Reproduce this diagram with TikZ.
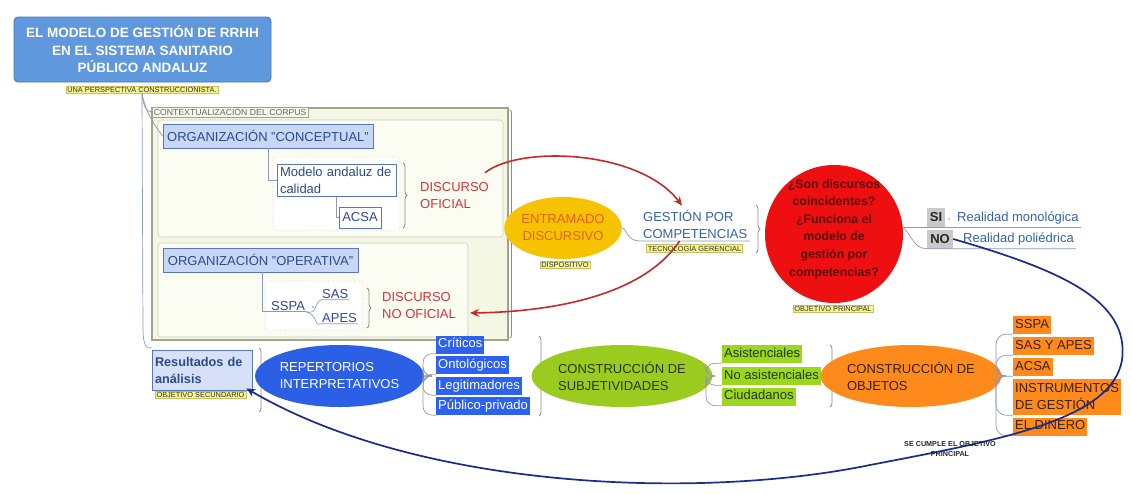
\documentclass[tikz,border=0pt]{standalone}
\usepackage{fontspec}
\setmainfont{Liberation Sans}
\usetikzlibrary{shapes.geometric,decorations.pathreplacing,arrows.meta,calc}
\definecolor{titleblue}{HTML}{5F98DD}
\definecolor{titleborder}{HTML}{4A78B8}
\definecolor{lblyellow}{HTML}{F8F58A}
\definecolor{lblborder}{HTML}{C8C060}
\definecolor{ctxfill}{HTML}{F5F7E5}
\definecolor{ctxborder}{HTML}{A3A38A}
\definecolor{innerborder}{HTML}{CFCFC0}
\definecolor{innerfill}{HTML}{FBFCF2}
\definecolor{orgfill}{HTML}{C8D7F5}
\definecolor{orgborder}{HTML}{5677C0}
\definecolor{orgtext}{HTML}{2D4B8A}
\definecolor{redtxt}{HTML}{D2353A}
\definecolor{arrowred}{HTML}{C42A2A}
\definecolor{entrfill}{HTML}{F7C200}
\definecolor{entrtext}{HTML}{E2621C}
\definecolor{gestext}{HTML}{3563A8}
\definecolor{qred}{HTML}{EE1010}
\definecolor{qtext}{HTML}{5C0A0A}
\definecolor{sigray}{HTML}{C9C9C9}
\definecolor{repblue}{HTML}{2B60E6}
\definecolor{itemblue}{HTML}{2D62EE}
\definecolor{greenell}{HTML}{9BCB1F}
\definecolor{itemgreen}{HTML}{99D81E}
\definecolor{greentext}{HTML}{2A3510}
\definecolor{itemorange}{HTML}{FF8A1C}
\definecolor{orangetext}{HTML}{3A2008}
\definecolor{navy}{HTML}{1B2B8C}
\definecolor{connc}{HTML}{8A9AB8}
\definecolor{gconnc}{HTML}{9A9A9A}
\definecolor{bracec}{HTML}{8C8C8C}
\definecolor{dotblue}{HTML}{A8C4E8}
\tikzset{
 f13/.style={font=\fontsize{13}{17}\selectfont},
 ylbl/.style={fill=lblyellow, draw=lblborder, line width=0.4pt, inner xsep=1.5pt, inner ysep=1pt, text=black!80, font=\fontsize{7.4}{8.5}\selectfont},
 conn/.style={draw=connc, line width=0.7pt},
 gconn/.style={draw=gconnc, line width=0.7pt},
 bracestyle/.style={draw=bracec, line width=0.8pt, decorate, decoration={brace, amplitude=4pt}},
 orgbox/.style={rectangle, fill=orgfill, draw=orgborder, line width=0.8pt, text=orgtext, f13, minimum height=24pt, inner sep=2pt},
 wbox/.style={rectangle, fill=white, draw=orgborder, line width=0.8pt, text=orgtext, f13, inner sep=3pt},
 redt/.style={text=redtxt, f13, align=left, inner sep=2pt},
 bluet/.style={text=gestext, f13, inner sep=2pt},
 item/.style={rectangle, f13, inner xsep=2pt, inner ysep=0pt, minimum height=18pt, text height=9.6pt, text depth=2.8pt},
 bitem/.style={item, fill=itemblue, text=white},
 gitem/.style={item, fill=itemgreen, text=greentext},
 oitem/.style={item, fill=itemorange, text=orangetext},
 ell/.style={ellipse, inner sep=0pt, f13, align=left},
 redarrow/.style={draw=arrowred, line width=1.6pt, -{Stealth[length=9pt,width=8pt]}},
 navyarrow/.style={draw=navy, line width=1.7pt, -{Stealth[length=9pt,width=8pt]}},
}
\begin{document}
\begin{tikzpicture}[x=1pt,y=-1pt]
\useasboundingbox[fill=white] (0,0) rectangle (1132,493);

% title
\node[rectangle, rounded corners=4pt, fill=titleblue, draw=titleborder, line width=0.8pt,
  minimum width=257pt, minimum height=65pt, align=center, text=white,
  font=\fontsize{13.5}{17.5}\selectfont\bfseries] (title) at (142.5,49.5)
  {EL MODELO DE GESTIÓN DE RRHH\\EN EL SISTEMA SANITARIO\\PÚBLICO ANDALUZ};
\node[ylbl] (ulabel) at (142,90) {UNA PERSPECTIVA CONSTRUCCIONISTA.};

% context box
\draw[fill=ctxfill, draw=ctxborder, line width=1.3pt] (152,108) rectangle (508,340);
\draw[fill=innerfill, draw=innerborder, line width=0.6pt, rounded corners=3pt] (158,120) rectangle (503,237);
\draw[fill=innerfill, draw=innerborder, line width=0.6pt, rounded corners=3pt] (158,243) rectangle (468,337);
\draw[fill=white, draw=innerborder, line width=0.6pt, dotted, rounded corners=3pt] (273,157) rectangle (400,230);
\draw[fill=white, draw=innerborder, line width=0.6pt, dotted, rounded corners=3pt] (265,281) rectangle (362,330);
\node[anchor=west, fill=ctxfill!70!white, draw=ctxborder, line width=0.5pt, inner xsep=1.5pt, inner ysep=1pt,
  text=black!60, font=\fontsize{8.7}{9.5}\selectfont] (ctx) at (152,112) {CONTEXTUALIZACIÓN DEL CORPUS};

% conceptual
\node[orgbox, minimum width=210pt] (conc) at (268,136) {ORGANIZACIÓN "CONCEPTUAL"};
\node[wbox, text width=113pt, align=left] (modelo) at (336.5,180.5) {Modelo andaluz de\\calidad};
\node[wbox, minimum width=42pt, minimum height=21pt, inner sep=1pt] (acsa) at (360,217.5) {ACSA};
\draw[conn] (conc.south) |- (modelo.west);
\draw[conn] (modelo.south) |- (acsa.west);
\draw[bracestyle] (403,163) -- (403,228);
\node[redt, anchor=west] (dof) at (418,196) {DISCURSO\\OFICIAL};

% operativa
\node[orgbox, minimum width=195pt] (oper) at (260.5,260) {ORGANIZACIÓN "OPERATIVA"};
\node[bluet, text=orgtext, anchor=west, inner sep=1pt] (sspa) at (270,306) {SSPA};
\node[bluet, text=orgtext, anchor=west, inner sep=1pt] (sas) at (321,294) {SAS};
\node[bluet, text=orgtext, anchor=west, inner sep=1pt] (apes) at (321,318) {APES};
\draw[conn] ([xshift=1.5pt]oper.south) |- (sspa.south east);
\draw[conn] (sspa.south east) .. controls (318,315) and (314,302) .. (sas.south west) -- (sas.south east);
\draw[conn] (sspa.south east) .. controls (318,315) and (314,327) .. (apes.south west) -- (apes.south east);
\fill[dotblue] (313,307) circle (1.3pt);
\draw[bracestyle] (367,288) -- (367,328);
\node[redt, anchor=west] (dnof) at (380,306) {DISCURSO\\NO OFICIAL};

\draw[bracestyle, decoration={brace, amplitude=3pt}] (510,110) -- (510,338);

% tree lines from title
\draw[conn] (ulabel.south) .. controls (143,105) and (146,112) .. (ctx.west);
\draw[conn] (ulabel.south) .. controls (146,112) and (152,122) .. (conc.west);

% entramado
\node[ell, fill=entrfill, text=entrtext, align=center, minimum width=96pt, minimum height=62pt] (entr) at (563,228) {ENTRAMADO\\DISCURSIVO};
\node[ylbl] (disp) at (565,264.5) {DISPOSITIVO};
\node[bluet, anchor=west, align=left] (gest) at (641,224) {GESTIÓN POR\\COMPETENCIAS};
\coordinate (gu1) at (640,241);
\coordinate (gu2) at (750,241);
\draw[conn] (entr.east) .. controls (627,228) and (626,241) .. (gu1) -- (gu2);
\fill[dotblue] (620,228) circle (1.3pt);
\node[ylbl] (tecno) at (694.5,248) {TECNOLOGÍA GERENCIAL};
\draw[bracestyle] (756,205) -- (756,253);

% question circle
\node[circle, fill=qred, minimum size=138pt, inner sep=0pt] (q) at (834,234) {};
\node[align=center, text=qtext, font=\fontsize{12.3}{17.6}\selectfont\bfseries] (qt) at (834,229)
  {¿Son discursos\\coincidentes?\\¿Funciona el\\modelo de\\gestión por\\competencias?};
\node[ylbl] (objp) at (833,308.5) {OBJETIVO PRINCIPAL};

% SI / NO
\node[rectangle, fill=sigray, minimum width=18pt, minimum height=19pt, inner sep=1pt, font=\fontsize{13}{17}\selectfont\bfseries, text=black!85] (si) at (936,217.5) {SI};
\node[rectangle, fill=sigray, minimum width=26pt, minimum height=19pt, inner sep=1pt, font=\fontsize{13}{17}\selectfont\bfseries, text=black!85] (no) at (940,239) {NO};
\node[bluet, anchor=west] (rm) at (955,218) {Realidad monológica};
\node[bluet, anchor=west] (rp) at (961,239) {Realidad poliédrica};
\draw[conn] (q.east |- si.south) -- (rm.east |- si.south);
\draw[conn] (q.east |- si.south) .. controls (912,236) and (914,248.5) .. (no.south west) -- (rp.east |- no.south);
\fill[dotblue] (949,219) circle (1.2pt);
\fill[dotblue] (957,240) circle (1.2pt);

% resultados
\node[rectangle, fill=orgfill!75!white, draw=orgborder, line width=0.8pt, text=orgtext,
  font=\fontsize{12.7}{17}\selectfont\bfseries, text width=94pt, align=left, inner sep=3pt,
  minimum height=40pt] (res) at (202,370) {Resultados de\\análisis};
\node[ylbl] (objs) at (200.5,395) {OBJETIVO SECUNDARIO};
\draw[conn] (ulabel.south) -- (143,330) .. controls (143,345) and (147,350) .. ([yshift=2pt]res.north west);
\draw[bracestyle] (259,348) -- (259,412);

% repertorios
\node[ell, fill=repblue, text=white, minimum width=144pt, minimum height=62pt] (rep) at (339.5,376) {REPERTORIOS\\INTERPRETATIVOS};
\node[bitem, anchor=west] (b1) at (436,344.5) {Críticos};
\node[bitem, anchor=west] (b2) at (436,365) {Ontológicos};
\node[bitem, anchor=west] (b3) at (436,386) {Legitimadores};
\node[bitem, anchor=west] (b4) at (436,406) {Público-privado};
\foreach \b in {b1,b2,b3,b4}{
  \draw[gconn, rounded corners=9pt] (rep.east) -- (423,376) |- (\b.south west);
}
\draw[bracestyle] (539,336) -- (539,416);

% subjetividades
\node[ell, fill=greenell, text=greentext, minimum width=150pt, minimum height=62pt] (subj) at (622,376) {CONSTRUCCIÓN DE\\SUBJETIVIDADES};
\node[gitem, anchor=west] (g1) at (722,354) {Asistenciales};
\node[gitem, anchor=west] (g2) at (722,376) {No asistenciales};
\node[gitem, anchor=west] (g3) at (722,396.5) {Ciudadanos};
\foreach \g in {g1,g2,g3}{
  \draw[conn, rounded corners=9pt] (subj.east) -- (706,376) |- (\g.south west);
}
\draw[bracestyle] (830,345) -- (830,407);

% objetos
\node[ell, fill=itemorange, text=orangetext, minimum width=152pt, minimum height=62pt] (obj) at (911,376) {CONSTRUCCIÓN DE\\OBJETOS};
\node[oitem, anchor=west] (o1) at (1013,325) {SSPA};
\node[oitem, anchor=west] (o2) at (1013,346) {SAS Y APES};
\node[oitem, anchor=west] (o3) at (1013,367) {ACSA};
\node[rectangle, fill=itemorange, text=orangetext, f13, align=left, inner xsep=2pt, inner ysep=1.5pt, minimum height=36pt, anchor=west] (o4) at (1013,397) {INSTRUMENTOS\\DE GESTIÓN};
\node[oitem, anchor=west] (o5) at (1013,426.5) {EL DINERO};
\foreach \o in {o1,o2,o3,o4,o5}{
  \draw[conn, rounded corners=10pt] (obj.east) -- (996,376) |- (\o.south west);
}

% navy curve
\draw[navyarrow] (no.east) .. controls (1060,270) and (1130,300) .. (1122,360)
  .. controls (1112,420) and (1000,440) .. (870,465)
  .. controls (700,500) and (420,490) .. ([xshift=-6pt,yshift=2pt]res.south east);
\node[align=center, text=black!85, font=\fontsize{7.2}{10}\selectfont\bfseries] (cumple) at (950,449) {SE CUMPLE EL OBJETIVO\\PRINCIPAL};

% red arrows
\draw[redarrow] ($(dof.north east)+(-6,-8)$) .. controls (520,145) and (640,150) .. ($(gest.north west)+(41,-2)$);
\draw[redarrow] ($(gu1)!0.36!(gu2)$) .. controls (640,300) and (540,312) .. ($(dnof.east)+(12,7)$);
\end{tikzpicture}
\end{document}
